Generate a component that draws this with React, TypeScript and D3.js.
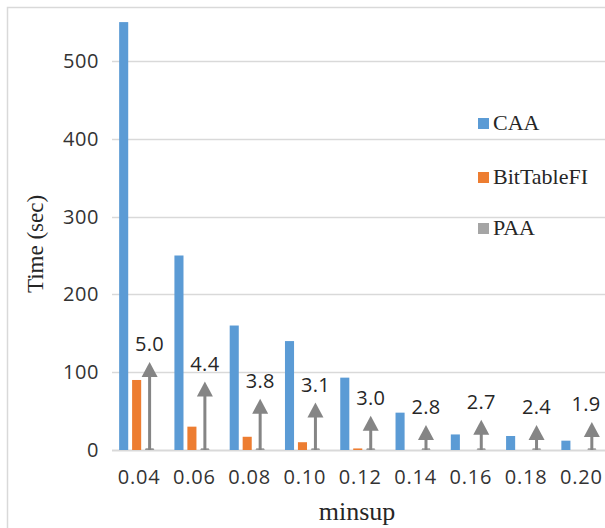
import React, { useEffect, useRef } from 'react';
import * as d3 from 'd3';

const categories = ['0.04', '0.06', '0.08', '0.10', '0.12', '0.14', '0.16', '0.18', '0.20'];
const seriesNames = ['CAA', 'BitTableFI', 'PAA'];
const caaValues = [550, 250, 160, 140, 93, 48, 20, 18, 12];
const bitTableValues = [90, 30, 17, 10, 2, 0, 0, 0, 0];
const paaValues = [1.5, 1.2, 1, 1, 0.9, 0.8, 0.8, 0.7, 0.6];
// arrow tips (in y units) and the speedup labels over them
const arrowTops = [113, 88, 66, 61, 44, 32, 39, 32, 36];
const speedupLabels = ['5.0', '4.4', '3.8', '3.1', '3.0', '2.8', '2.7', '2.4', '1.9'];
const yTicks = [0, 100, 200, 300, 400, 500];

const colors = ['#5b9bd5', '#ed7d31', '#a5a5a5'];
const arrowColor = '#858585';
const gridColor = '#d9d9d9';

const App: React.FC = () => {
  const svgRef = useRef<SVGSVGElement>(null);

  useEffect(() => {
    if (!svgRef.current) return;
    const svg = d3.select(svgRef.current);
    svg.selectAll('*').remove();

    const width = 605;
    const height = 528;

    svg.append('rect').attr('width', width).attr('height', height).attr('fill', '#fff');
    svg.append('rect')
      .attr('x', 7.5).attr('y', 7.5)
      .attr('width', 800).attr('height', 800)
      .attr('fill', 'none')
      .attr('stroke', gridColor)
      .attr('stroke-width', 1.5);

    const xScale = d3.scaleBand<string>().domain(categories).range([111.5, 609]);
    const inner = d3.scaleBand<string>().domain(seriesNames).range([-20, 15]).paddingInner(0.3);
    const yScale = d3.scaleLinear().domain([0, 500]).range([450, 61]);

    const center = (c: string) => (xScale(c) as number) + xScale.bandwidth() / 2;

    // gridlines
    svg.append('g')
      .selectAll('line')
      .data(yTicks)
      .join('line')
      .attr('x1', 112)
      .attr('x2', width)
      .attr('y1', d => Math.round(yScale(d)) + 0.5)
      .attr('y2', d => Math.round(yScale(d)) + 0.5)
      .attr('stroke', gridColor)
      .attr('stroke-width', d => (d === 0 ? 2 : 1.5));

    // y tick labels
    svg.append('g')
      .selectAll('text')
      .data(yTicks)
      .join('text')
      .attr('x', 99)
      .attr('y', d => yScale(d) + 7)
      .attr('text-anchor', 'end')
      .attr('font-family', '"Open Sans", sans-serif')
      .attr('font-size', 20)
      .attr('letter-spacing', 0.6)
      .attr('fill', '#333')
      .text(d => String(d));

    // x tick labels
    svg.append('g')
      .selectAll('text')
      .data(categories)
      .join('text')
      .attr('x', d => center(d))
      .attr('y', 484)
      .attr('text-anchor', 'middle')
      .attr('font-family', '"Open Sans", sans-serif')
      .attr('font-size', 20)
      .attr('letter-spacing', 0.8)
      .attr('fill', '#333')
      .text(d => d);

    // bars
    const allSeries = [caaValues, bitTableValues, paaValues];
    allSeries.forEach((vals, s) => {
      svg.append('g')
        .selectAll('rect')
        .data(vals)
        .join('rect')
        .attr('x', (d, i) => center(categories[i]) + (inner(seriesNames[s]) as number))
        .attr('y', d => yScale(d))
        .attr('width', inner.bandwidth())
        .attr('height', d => yScale(0) - yScale(d))
        .attr('fill', colors[s]);
    });

    // PAA arrows
    const paaX = (i: number) => center(categories[i]) + (inner('PAA') as number) + inner.bandwidth() / 2;
    const arrows = svg.append('g');
    arrowTops.forEach((top, i) => {
      const x = paaX(i);
      const tipY = yScale(top);
      arrows.append('line')
        .attr('x1', x).attr('x2', x)
        .attr('y1', yScale(0)).attr('y2', tipY + 10)
        .attr('stroke', arrowColor)
        .attr('stroke-width', 3);
      arrows.append('line')
        .attr('x1', x - 4).attr('x2', x + 4)
        .attr('y1', yScale(0) - 1).attr('y2', yScale(0) - 1)
        .attr('stroke', arrowColor)
        .attr('stroke-width', 1.2);
      arrows.append('path')
        .attr('d', `M${x},${tipY} L${x + 8},${tipY + 15} L${x - 8},${tipY + 15} Z`)
        .attr('fill', arrowColor);
      arrows.append('text')
        .attr('x', Math.min(x, 586))
        .attr('y', tipY - 11)
        .attr('text-anchor', 'middle')
        .attr('font-family', '"Open Sans", sans-serif')
        .attr('font-size', 20)
        .attr('letter-spacing', 0.3)
        .attr('fill', '#262626')
        .text(speedupLabels[i]);
    });

    // axis titles
    svg.append('text')
      .attr('x', 357)
      .attr('y', 520)
      .attr('text-anchor', 'middle')
      .attr('font-family', '"Liberation Serif", "Times New Roman", serif')
      .attr('font-size', 26)
      .attr('fill', '#262626')
      .text('minsup');

    svg.append('text')
      .attr('transform', 'translate(43,244) rotate(-90)')
      .attr('text-anchor', 'middle')
      .attr('font-family', '"Liberation Serif", "Times New Roman", serif')
      .attr('font-size', 23)
      .attr('fill', '#262626')
      .text('Time (sec)');

    // legend
    const legendY = [123, 177, 228];
    const legend = svg.append('g');
    seriesNames.forEach((name, i) => {
      legend.append('rect')
        .attr('x', 478).attr('y', legendY[i] - 5)
        .attr('width', 11).attr('height', 11)
        .attr('fill', colors[i]);
      legend.append('text')
        .attr('x', 493)
        .attr('y', legendY[i] + 7)
        .attr('font-family', '"Liberation Serif", "Times New Roman", serif')
        .attr('font-size', 22)
        .attr('fill', '#262626')
        .text(name);
    });
  }, []);

  return (
    <svg
      ref={svgRef}
      width={605}
      height={528}
      style={{ position: 'absolute', left: 0, top: 0, display: 'block' }}
    />
  );
};

export default App;
